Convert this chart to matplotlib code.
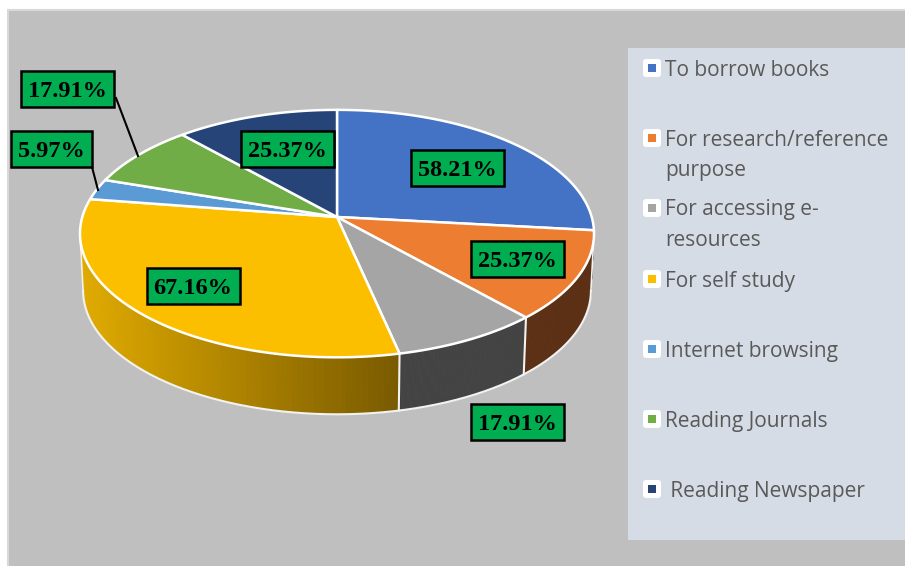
"""Perspective 3D pie of library visit purposes, drawn in pixel coordinates."""

import matplotlib
matplotlib.use("Agg")
import matplotlib.pyplot as plt
import numpy as np
from matplotlib.patches import FancyBboxPatch, Polygon, Rectangle

# Data
categories = ["To borrow books", "For research/reference\npurpose",
              "For accessing e-\nresources", "For self study",
              "Internet browsing", "Reading Journals", " Reading Newspaper"]
values = [58.21, 25.37, 17.91, 67.16, 5.97, 17.91, 25.37]
colors = ["#4472C4", "#ED7D31", "#A5A5A5", "#FCBF00", "#5B9BD5", "#70AD47", "#264478"]
side_colors = ["#2F4F88", "#5C3014", "#434343", "#FCBF00", "#3F6C94", "#4E7931", "#1A2F54"]

# Label box centres in pixels, same order as values
label_centres = [(457, 168), (517, 259), (517, 422), (193, 286), (51, 149), (67, 89), (287, 149)]
leaders = {4: ((92, 167), (98, 190)), 5: ((116, 98), (138, 156))}
legend_y = [68, 138, 208, 279, 349, 419, 489]

W, H = 905, 566
CX, CY = 337, 217
A, B, K = 254.7, 121.5, 0.134
DEPTH = 57


def project(theta, depth=0.0):
    """Screen position of a rim point, theta clockwise from the top."""
    u, v = np.sin(theta), np.cos(theta)
    w = 1 + K * v
    shrink = 1 - 0.012 * depth / DEPTH
    return CX + shrink * A * u / w, CY - B * v / w + depth


def mix(c1, c2, t):
    return tuple(np.array(matplotlib.colors.to_rgb(c1)) * (1 - t)
                 + np.array(matplotlib.colors.to_rgb(c2)) * t)


fig = plt.figure(figsize=(W / 100, H / 100), dpi=100)
ax = fig.add_axes([0, 0, 1, 1])
ax.set_xlim(0, W)
ax.set_ylim(H, 0)
ax.axis("off")

ax.add_patch(Rectangle((8, 10), W, H, fc="#BFBFBF", ec="#D9D9D9", lw=1.5))
ax.add_patch(Rectangle((628, 48), W - 628, 492, fc="#D6DCE5", ec="none"))

fractions = np.array(values) / np.sum(values)
edges = np.concatenate([[0], np.cumsum(fractions)]) * 2 * np.pi

# side wall runs between the two silhouette points of the top rim
front_start = np.arccos(-K)
front_end = 2 * np.pi - front_start
for i in range(len(values)):
    lo, hi = max(edges[i], front_start), min(edges[i + 1], front_end)
    if hi <= lo:
        continue
    steps = np.linspace(lo, hi, 90)
    for a, b in zip(steps[:-1], steps[1:]):
        x0, y0 = project(a)
        x1, y1 = project(b)
        x2, y2 = project(b, DEPTH)
        x3, y3 = project(a, DEPTH)
        if i == 3:
            t = (x0 - 83) / (398 - 83)
            col = mix("#E0AA00", "#7A5B00", np.clip(t, 0, 1))
        else:
            col = side_colors[i]
        ax.add_patch(Polygon([(x0, y0), (x1, y1), (x2, y2), (x3, y3)],
                             fc=col, ec=col, lw=0.6, zorder=1))
    # white seam where two slices meet on the wall
    if hi == edges[i + 1]:
        x0, y0 = project(hi)
        x1, y1 = project(hi, DEPTH)
        ax.plot([x0, x1], [y0, y1], color="#F2F2F2", lw=1.5, zorder=2)

# bottom rim of the wall and its two outer edges
theta = np.linspace(front_start, front_end, 300)
bx, by = project(theta, DEPTH)
ax.plot(bx, by, color="#F2F2F2", lw=1.5, zorder=2)
for end in (front_start, front_end):
    x0, y0 = project(end)
    x1, y1 = project(end, DEPTH)
    ax.plot([x0, x1], [y0, y1], color="#F2F2F2", lw=1.2, zorder=2)

# top face slices
for i in range(len(values)):
    theta = np.linspace(edges[i], edges[i + 1], 120)
    x, y = project(theta)
    pts = np.column_stack([np.r_[CX, x], np.r_[CY, y]])
    ax.add_patch(Polygon(pts, closed=True, fc=colors[i], ec="white", lw=1.8,
                         joinstyle="round", zorder=3))

# leader lines
for start, end in leaders.values():
    ax.plot([start[0], end[0]], [start[1], end[1]], color="black", lw=1.5, zorder=4)

# data labels
for i, (lx, ly) in enumerate(label_centres):
    bw = 81 if values[i] < 10 else 93
    ax.add_patch(Rectangle((lx - bw / 2, ly - 18), bw, 36, fc="#00AD50", ec="black", lw=1.8, zorder=5))
    ax.text(lx, ly, f"{values[i]:.2f}%", ha="center", va="center_baseline", zorder=6,
            family="Liberation Serif", fontweight="bold", fontsize=17.5, color="black")

# legend
for name, col, ly in zip(categories, colors, legend_y):
    ax.add_patch(FancyBboxPatch((644.5, ly - 7.5), 15, 15, boxstyle="round,pad=1.5,rounding_size=3",
                                fc="white", ec="none"))
    ax.add_patch(Rectangle((648, ly - 4), 8, 8, fc=col, ec="none"))
    ax.text(665, ly - 8.5, name, ha="left", va="top", family="Open Sans", fontsize=15,
            color="#595959", linespacing=1.58)

fig.savefig("out.png", dpi=100)
